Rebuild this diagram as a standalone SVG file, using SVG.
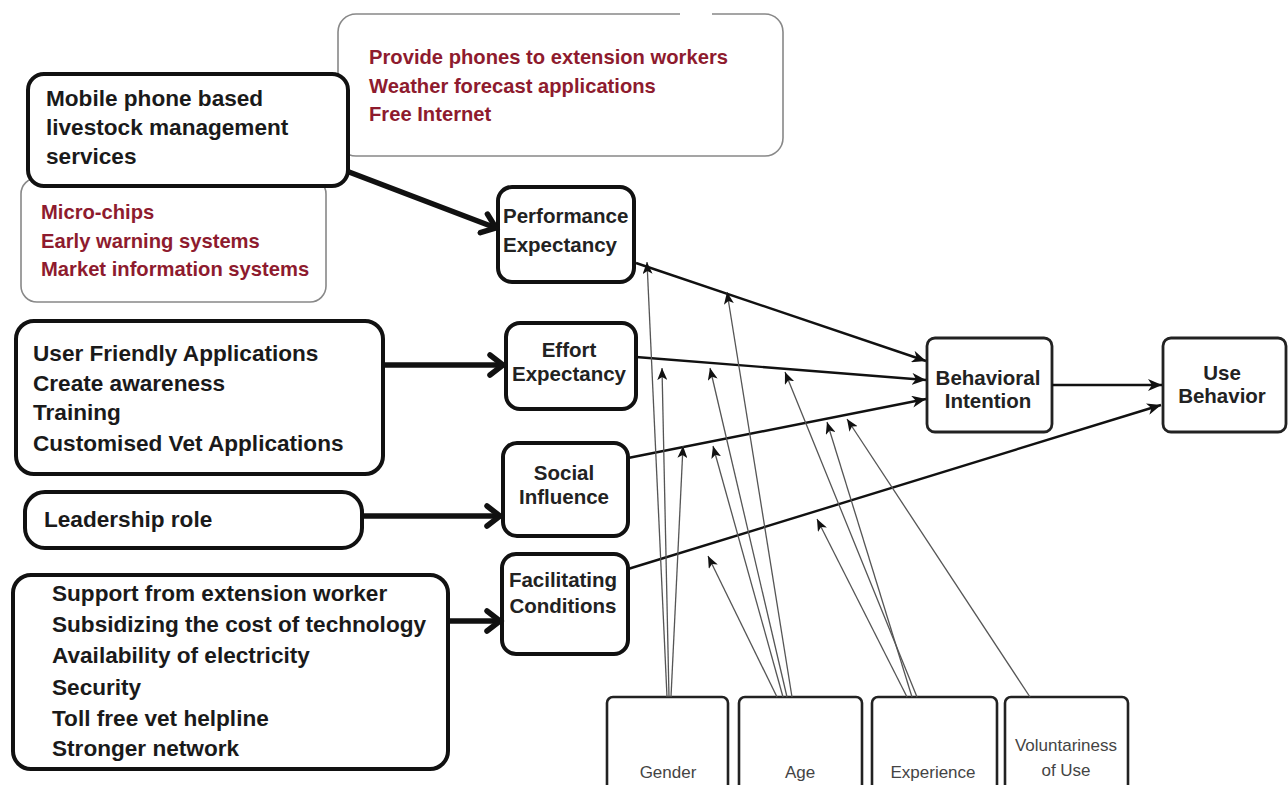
<svg xmlns="http://www.w3.org/2000/svg" width="1288" height="785" viewBox="0 0 1288 785">
<style>
.bg{fill:#fff}
.thick{fill:#fff;stroke:#111;stroke-width:4}
.med{fill:#fff;stroke:#222;stroke-width:2.8}
.soft{fill:#fff;stroke:#888;stroke-width:1.6}
.mod{fill:#fff;stroke:#222;stroke-width:2.6}
.lt{font-family:"Liberation Sans",Arial,sans-serif;font-weight:bold;font-size:22.6px;fill:#1a1a1a}
.rt{font-family:"Liberation Sans",Arial,sans-serif;font-weight:bold;font-size:20.2px;fill:#8e1b2e}
.nt{font-family:"Liberation Sans",Arial,sans-serif;font-weight:bold;font-size:20.5px;fill:#222}
.mt{font-family:"Liberation Sans",Arial,sans-serif;font-size:17px;fill:#444;text-anchor:middle}
.c{text-anchor:middle}
.big{fill:none;stroke:#111;stroke-width:5.5}
.main{fill:none;stroke:#111;stroke-width:2.4}
.thin{fill:none;stroke:#555;stroke-width:1.3}
</style>
<defs>
<marker id="chev" markerUnits="userSpaceOnUse" markerWidth="24" markerHeight="26" refX="16" refY="13" orient="auto">
<path d="M3,3 L16,13 L3,23" fill="none" stroke="#111" stroke-width="5.5" stroke-linecap="round"/>
</marker>
<marker id="ah" markerUnits="userSpaceOnUse" markerWidth="16" markerHeight="12" refX="14" refY="6" orient="auto">
<path d="M0,0 L14,6 L0,12 L4,6 z" fill="#111"/>
</marker>
<marker id="sh" markerUnits="userSpaceOnUse" markerWidth="14" markerHeight="10" refX="12" refY="5" orient="auto">
<path d="M0,0 L12,5 L0,10 L3,5 z" fill="#111"/>
</marker>
</defs>
<rect class="bg" x="0" y="0" width="1288" height="785"/>

<g id="services-top">
<rect class="soft" x="338" y="14" width="445" height="142" rx="18"/>
<line x1="680" y1="14" x2="712" y2="14" stroke="#fff" stroke-width="4"/>
<text class="rt" x="369" y="64">Provide phones to extension workers</text>
<text class="rt" x="369" y="93">Weather forecast applications</text>
<text class="rt" x="369" y="121">Free Internet</text>
</g>

<g id="services-left">
<rect class="soft" x="21" y="178" width="305" height="124" rx="16"/>
<text class="rt" x="41" y="219">Micro-chips</text>
<text class="rt" x="41" y="248">Early warning systems</text>
<text class="rt" x="41" y="276">Market information systems</text>
</g>

<g id="mobile">
<rect class="thick" x="28" y="74" width="320" height="112" rx="16"/>
<text class="lt" x="46" y="106">Mobile phone based</text>
<text class="lt" x="46" y="135">livestock management</text>
<text class="lt" x="46" y="164">services</text>
</g>

<g id="effort-factors">
<rect class="thick" x="16" y="321" width="367" height="153" rx="18"/>
<text class="lt" x="33" y="361">User Friendly Applications</text>
<text class="lt" x="33" y="391">Create awareness</text>
<text class="lt" x="33" y="420">Training</text>
<text class="lt" x="33" y="451">Customised Vet Applications</text>
</g>

<g id="leadership">
<rect class="thick" x="25" y="492" width="337" height="56" rx="20"/>
<text class="lt" x="44" y="527">Leadership role</text>
</g>

<g id="facilitating-factors">
<rect class="thick" x="13" y="575" width="435" height="194" rx="18"/>
<text class="lt" x="52" y="601">Support from extension worker</text>
<text class="lt" x="52" y="632">Subsidizing the cost of technology</text>
<text class="lt" x="52" y="663">Availability of electricity</text>
<text class="lt" x="52" y="695">Security</text>
<text class="lt" x="52" y="726">Toll free vet helpline</text>
<text class="lt" x="52" y="756">Stronger network</text>
</g>

<g id="pe">
<rect class="thick" x="498" y="187" width="136" height="95" rx="14"/>
<text class="nt" x="503" y="223">Performance</text>
<text class="nt" x="503" y="252">Expectancy</text>
</g>
<g id="ee">
<rect class="thick" x="506" y="323" width="130" height="86" rx="14"/>
<text class="nt c" x="569" y="357">Effort</text>
<text class="nt c" x="569" y="381">Expectancy</text>
</g>
<g id="si">
<rect class="thick" x="503" y="443" width="125" height="93" rx="14"/>
<text class="nt c" x="564" y="480">Social</text>
<text class="nt c" x="564" y="504">Influence</text>
</g>
<g id="fc">
<rect class="thick" x="502" y="554" width="126" height="100" rx="14"/>
<text class="nt c" x="563" y="587">Facilitating</text>
<text class="nt c" x="563" y="613">Conditions</text>
</g>
<g id="bi">
<rect class="med" x="927" y="338" width="125" height="94" rx="8"/>
<text class="nt c" x="988" y="385">Behavioral</text>
<text class="nt c" x="988" y="408">Intention</text>
</g>
<g id="ub">
<rect class="med" x="1163" y="338" width="123" height="94" rx="8"/>
<text class="nt c" x="1222" y="380">Use</text>
<text class="nt c" x="1222" y="403">Behavior</text>
</g>

<g id="gender">
<rect class="mod" x="607" y="697" width="121" height="100" rx="6"/>
<text class="mt" x="668" y="778">Gender</text>
</g>
<g id="age">
<rect class="mod" x="739" y="697" width="123" height="100" rx="6"/>
<text class="mt" x="800" y="778">Age</text>
</g>
<g id="experience">
<rect class="mod" x="872" y="697" width="125" height="100" rx="6"/>
<text class="mt" x="933" y="778">Experience</text>
</g>
<g id="voluntariness">
<rect class="mod" x="1005" y="697" width="123" height="100" rx="6"/>
<text class="mt" x="1066" y="751">Voluntariness</text>
<text class="mt" x="1066" y="776">of Use</text>
</g>

<g id="connectors">
<line class="big" x1="349" y1="172" x2="496" y2="228" marker-end="url(#chev)"/>
<line class="big" x1="383" y1="365" x2="503" y2="365" marker-end="url(#chev)"/>
<line class="big" x1="362" y1="516" x2="500" y2="516" marker-end="url(#chev)"/>
<line class="big" x1="448" y1="621" x2="500" y2="621" marker-end="url(#chev)"/>

<line class="main" x1="636" y1="263" x2="926" y2="361" marker-end="url(#ah)"/>
<line class="main" x1="636" y1="357" x2="926" y2="380" marker-end="url(#ah)"/>
<line class="main" x1="628" y1="458" x2="926" y2="399" marker-end="url(#ah)"/>
<line class="main" x1="628" y1="569" x2="1161" y2="405" marker-end="url(#ah)"/>
<line class="main" x1="1052" y1="385" x2="1162" y2="385" marker-end="url(#ah)"/>

<line class="thin" x1="667" y1="697" x2="647" y2="262" marker-end="url(#sh)"/>
<line class="thin" x1="669" y1="697" x2="662" y2="368" marker-end="url(#sh)"/>
<line class="thin" x1="671" y1="697" x2="683" y2="446" marker-end="url(#sh)"/>

<line class="thin" x1="777" y1="697" x2="708" y2="556" marker-end="url(#sh)"/>
<line class="thin" x1="783" y1="697" x2="713" y2="446" marker-end="url(#sh)"/>
<line class="thin" x1="787" y1="697" x2="710" y2="368" marker-end="url(#sh)"/>
<line class="thin" x1="792" y1="697" x2="727" y2="292" marker-end="url(#sh)"/>

<line class="thin" x1="907" y1="697" x2="817" y2="519" marker-end="url(#sh)"/>
<line class="thin" x1="912" y1="697" x2="827" y2="422" marker-end="url(#sh)"/>
<line class="thin" x1="917" y1="697" x2="785" y2="372" marker-end="url(#sh)"/>

<line class="thin" x1="1030" y1="697" x2="847" y2="419" marker-end="url(#sh)"/>
</g>
</svg>
